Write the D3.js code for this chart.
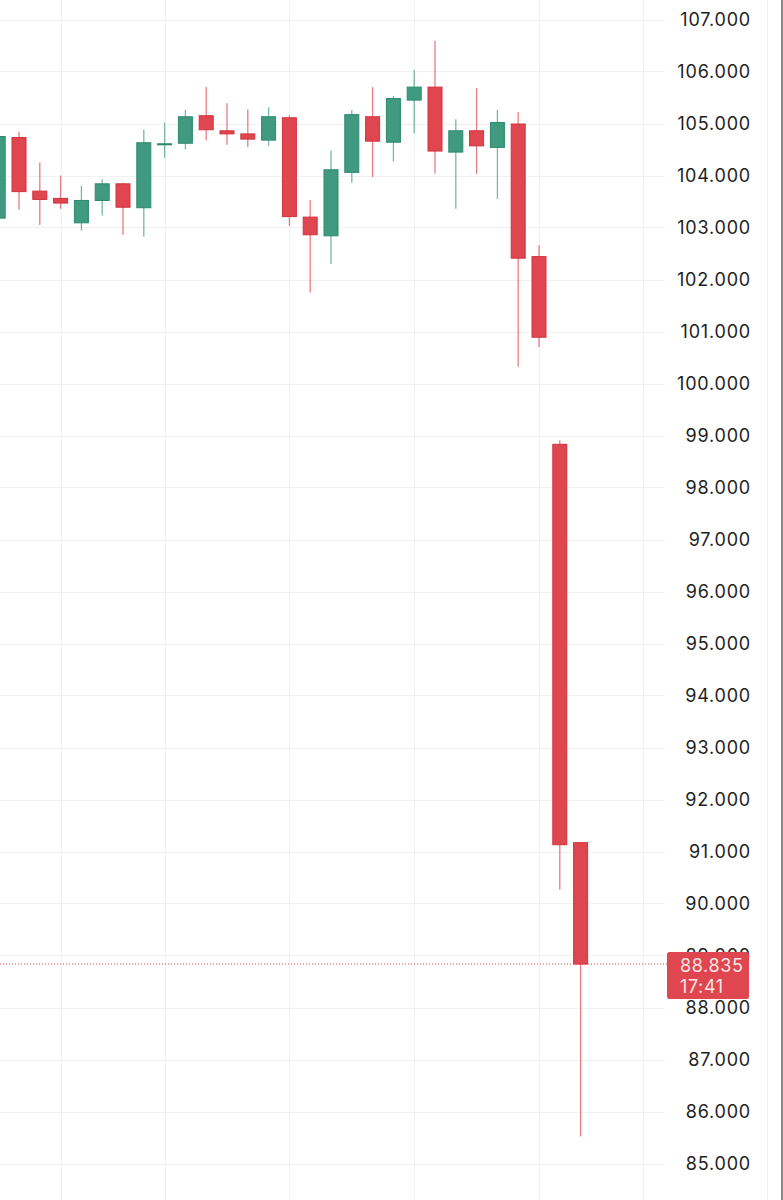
<!DOCTYPE html>
<html>
<head>
<meta charset="utf-8">
<script src="https://cdn.jsdelivr.net/npm/d3@7"></script>
<style>
  html, body { margin: 0; padding: 0; background: #ffffff; }
  svg { display: block; }
  text { font-family: Inter, "Noto Sans", sans-serif; }
</style>
</head>
<body>
<svg id="chart" width="783" height="1200"></svg>
<script>
// ---- data ----
const opens  = [103.18,104.73,103.70,103.56,103.09,103.52,103.84,103.38,104.60,104.62,105.15,104.86,104.80,104.68,105.11,103.20,102.84,104.06,105.13,104.64,105.45,105.70,104.45,104.86,104.54,104.99,102.44,98.83,91.17];
const highs  = [104.80,104.84,104.25,104.00,103.80,103.93,103.86,104.88,105.02,105.26,105.70,105.39,105.27,105.31,105.16,103.53,104.48,105.26,105.70,105.53,106.03,106.59,105.08,105.68,105.26,105.22,102.66,98.91,91.17];
const lows   = [103.15,103.34,103.05,103.36,102.94,103.23,102.86,102.82,104.34,104.50,104.68,104.59,104.55,104.57,103.03,101.75,102.30,103.86,103.97,104.27,104.81,104.04,103.36,104.03,103.55,100.32,100.70,90.27,85.52];
const closes = [104.75,103.69,103.54,103.47,103.52,103.84,103.39,104.63,104.61,105.13,104.88,104.80,104.70,105.13,103.21,102.86,104.11,105.17,104.66,105.48,105.70,104.47,104.86,104.57,105.02,102.41,100.89,91.13,88.835];
const yTicks = d3.range(85, 108, 1);
const vGridIdx = [3, 8, 14, 20, 26, 31];
const lastPrice = 88.835;
const countdown = "17:41";

// ---- layout ----
const W = 783, H = 1200;
const plotRight = 665;
const up = "#3f9a80", upStroke = "#2c8a6c";
const down = "#e0464f", downStroke = "#d0343d";

const svg = d3.select("#chart");
const x = d3.scaleLinear().domain([0, 31]).range([-1.8, 643]);
const y = d3.scaleLinear().domain([85, 107]).range([1163.5, 19.5]);

// grid
svg.append("g").selectAll("line").data(yTicks).join("line")
  .attr("x1", 0).attr("x2", plotRight)
  .attr("y1", d => Math.round(y(d)) + 0.5).attr("y2", d => Math.round(y(d)) + 0.5)
  .attr("stroke", "#f1f1f1").attr("stroke-width", 1);
svg.append("g").selectAll("line").data(vGridIdx).join("line")
  .attr("x1", d => Math.round(x(d)) + 0.5).attr("x2", d => Math.round(x(d)) + 0.5)
  .attr("y1", 0).attr("y2", H)
  .attr("stroke", "#f1f1f1").attr("stroke-width", 1);

// right edge lines
svg.append("line").attr("x1", 767.5).attr("x2", 767.5).attr("y1", 0).attr("y2", H)
  .attr("stroke", "#f0f0f0");
svg.append("line").attr("x1", 782).attr("x2", 782).attr("y1", 0).attr("y2", H)
  .attr("stroke", "#8a8a8a").attr("stroke-width", 2);

// y axis labels
const yAxis = d3.axisRight(y).tickValues(yTicks).tickFormat(d3.format(".3f")).tickSize(0).tickPadding(0);
const gAxis = svg.append("g").attr("transform", "translate(751,0)").call(yAxis);
gAxis.select(".domain").remove();
gAxis.selectAll("text")
  .attr("text-anchor", "end")
  .attr("dy", "0.36em")
  .attr("fill", "#1e1e1e")
  .style("font-size", "18px")
  .style("letter-spacing", "0.8px")
  .style("font-family", "Inter, 'Noto Sans', sans-serif");

// candles
const data = opens.map((o, i) => ({ i, o, h: highs[i], l: lows[i], c: closes[i] }));
const bw = 14;
const g = svg.append("g");
g.selectAll("line.wick").data(data).join("line")
  .attr("class", "wick")
  .attr("x1", d => x(d.i)).attr("x2", d => x(d.i))
  .attr("y1", d => y(d.h)).attr("y2", d => y(d.l))
  .attr("stroke", d => d.c >= d.o ? up : down)
  .attr("stroke-opacity", 0.7)
  .attr("stroke-width", 1.3);
g.selectAll("rect.body").data(data).join("rect")
  .attr("class", "body")
  .attr("x", d => x(d.i) - bw / 2)
  .attr("width", bw)
  .attr("y", d => y(Math.max(d.o, d.c)))
  .attr("height", d => Math.max(1, Math.abs(y(d.o) - y(d.c))))
  .attr("fill", d => d.c >= d.o ? up : down)
  .attr("stroke", d => d.c >= d.o ? upStroke : downStroke)
  .attr("stroke-width", 1);

// last price line
const yp = y(lastPrice);
svg.append("line").attr("x1", 0).attr("x2", 667).attr("y1", yp).attr("y2", yp)
  .attr("stroke", down).attr("stroke-width", 1).attr("stroke-dasharray", "1,2");

// price label
const lab = svg.append("g");
lab.append("rect").attr("x", 667).attr("y", yp - 12).attr("width", 82).attr("height", 47)
  .attr("rx", 2.5).attr("fill", down);
lab.append("text").attr("x", 680).attr("y", yp + 7.5).text(d3.format(".3f")(lastPrice))
  .attr("fill", "#fde4e4").style("font-size", "18px").style("letter-spacing", "0.6px");
lab.append("text").attr("x", 680).attr("y", yp + 28.5).text(countdown)
  .attr("fill", "#fde4e4").style("font-size", "18px").style("letter-spacing", "0.6px");
</script>
</body>
</html>
